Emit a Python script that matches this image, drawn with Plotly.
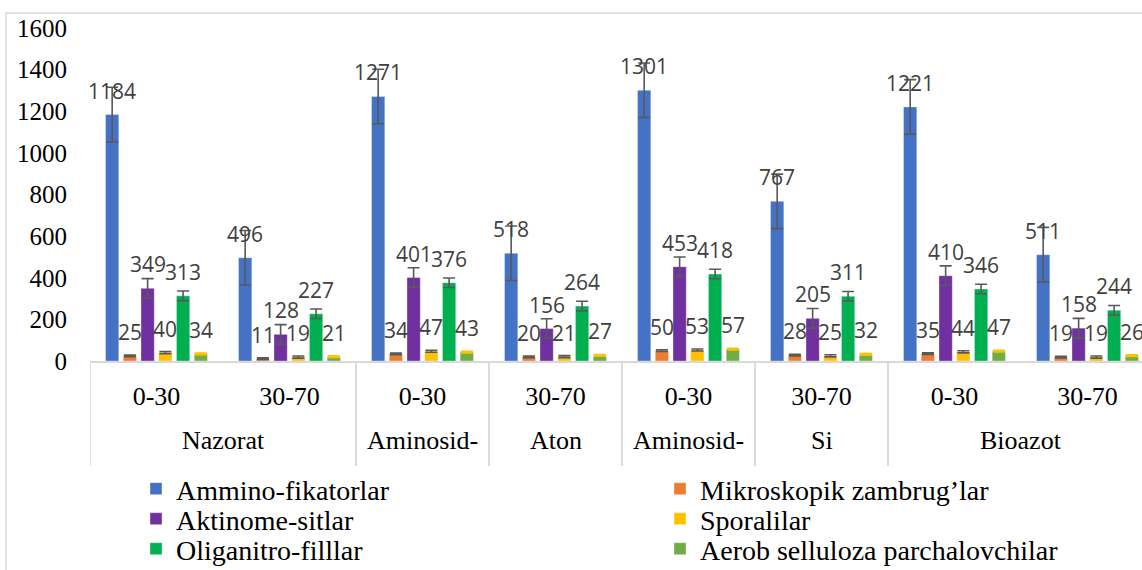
import plotly.graph_objects as go

# categories (two-level x axis)
treatments = ["Nazorat", "Nazorat", "Aminosid-", "Aton", "Aminosid-", "Si", "Bioazot", "Bioazot"]
depths = ["0-30", "30-70", "0-30", "30-70", "0-30", "30-70", "0-30", "30-70"]

series_names = [
    "Ammino-fikatorlar",
    "Mikroskopik zambrug’lar",
    "Aktinome-sitlar",
    "Sporalilar",
    "Oliganitro-filllar",
    "Aerob selluloza parchalovchilar",
]

ammino = [1184, 496, 1271, 518, 1301, 767, 1221, 511]
mikroskopik = [25, 11, 34, 20, 50, 28, 35, 19]
aktinomesit = [349, 128, 401, 156, 453, 205, 410, 158]
sporali = [40, 19, 47, 21, 53, 25, 44, 19]
oliganitro = [313, 227, 376, 264, 418, 311, 346, 244]
aerob = [34, 21, 43, 27, 57, 32, 47, 26]

# error bar half-lengths (one value per series)
errors = [131, 4, 47, 5, 23, 4]

COLORS = ["#4472C4", "#ED7D31", "#7030A0", "#FFC000", "#00B050", "#70AD47"]
ERR_COLORS = ["#595959", "#595959", "#595959", "#595959", "#595959", "#FFC000"]
GRID = "#D9D9D9"

W, H = 1142, 570
L, R, T, B = 90, 0, 28, 209
BARGAP = 0.2
SERIF = "Liberation Serif, Times New Roman, serif"


def px_to_paper_x(px):
    return (px - L) / (W - L - R)


def px_to_paper_y(py):
    return (H - B - py) / (H - B - T)


def runs(labels):
    """Consecutive runs of equal outer labels -> (label, first, last)"""
    out = []
    start = 0
    for i in range(1, len(labels) + 1):
        if i == len(labels) or labels[i] != labels[start]:
            out.append((labels[start], start, i - 1))
            start = i
    return out


all_values = [ammino, mikroskopik, aktinomesit, sporali, oliganitro, aerob]
n_series = len(all_values)
slot = (1 - BARGAP) / n_series
x_pos = list(range(len(depths)))

fig = go.Figure()
annotations = []
shapes = []

for j, (name, values) in enumerate(zip(series_names, all_values)):
    legend_id = "legend" if j == 0 else f"legend{j + 1}"
    fig.add_trace(
        go.Bar(
            x=x_pos,
            y=values,
            name=name,
            marker=dict(color=COLORS[j], line=dict(color="rgba(255,255,255,0.35)", width=1)),
            error_y=dict(type="constant", value=errors[j], color=ERR_COLORS[j], thickness=1.6, width=6),
            legend=legend_id,
        )
    )
    # data labels
    for i, v in enumerate(values):
        annotations.append(
            dict(
                x=i + (j - (n_series - 1) / 2) * slot,
                y=v,
                xref="x",
                yref="y",
                text=str(v),
                showarrow=False,
                yanchor="middle",
                yshift=24,
                font=dict(family="Open Sans, sans-serif", size=21, color="#404040"),
            )
        )

# outer category level + divider lines
div_bottom = px_to_paper_y(466)
for label, first, last in runs(treatments):
    annotations.append(
        dict(
            x=(first + last) / 2,
            y=px_to_paper_y(440),
            xref="x",
            yref="paper",
            text=label,
            showarrow=False,
            yanchor="middle",
            font=dict(family=SERIF, size=26, color="black"),
        )
    )
    for xb in (first - 0.5, last + 0.5):
        shapes.append(
            dict(type="line", xref="x", yref="paper", x0=xb, x1=xb, y0=0, y1=div_bottom,
                 line=dict(color=GRID, width=1.5))
        )

# chart border
shapes.append(
    dict(
        type="rect",
        xref="paper",
        yref="paper",
        x0=px_to_paper_x(6),
        x1=px_to_paper_x(1152),
        y0=px_to_paper_y(590),
        y1=px_to_paper_y(13),
        line=dict(color=GRID, width=1.5),
        fillcolor="rgba(0,0,0,0)",
        layer="below",
    )
)

# legend placement: two columns, three rows
col_px = [136, 660]
row_px = [489, 519, 549]
legends = {}
for j in range(n_series):
    key = "legend" if j == 0 else f"legend{j + 1}"
    legends[key] = dict(
        x=px_to_paper_x(col_px[j % 2]),
        y=px_to_paper_y(row_px[j // 2]),
        xanchor="left",
        yanchor="middle",
        bgcolor="rgba(0,0,0,0)",
        font=dict(family=SERIF, size=28, color="black"),
    )

fig.update_layout(
    width=W,
    height=H,
    margin=dict(l=L, r=R, t=T, b=B, pad=0, autoexpand=False),
    paper_bgcolor="white",
    plot_bgcolor="white",
    barmode="group",
    bargap=BARGAP,
    bargroupgap=0.25,
    showlegend=True,
    annotations=annotations,
    shapes=shapes,
    xaxis=dict(
        range=[-0.5, 7.5 - 12 / 133],
        tickmode="array",
        tickvals=x_pos,
        ticktext=depths,
        showline=True,
        linecolor=GRID,
        linewidth=1.5,
        ticks="",
        ticklabelstandoff=11,
        tickfont=dict(family=SERIF, size=26, color="black"),
        showgrid=False,
        zeroline=False,
        automargin=False,
    ),
    yaxis=dict(
        range=[0, 1600],
        dtick=200,
        showgrid=False,
        showline=False,
        zeroline=False,
        ticks="",
        ticklabelstandoff=22,
        tickfont=dict(family=SERIF, size=25, color="black"),
        automargin=False,
    ),
    **legends,
)

fig.write_html(
    "out.html",
    config={"displayModeBar": False},
    post_script="document.body.style.margin='0px';",
)
